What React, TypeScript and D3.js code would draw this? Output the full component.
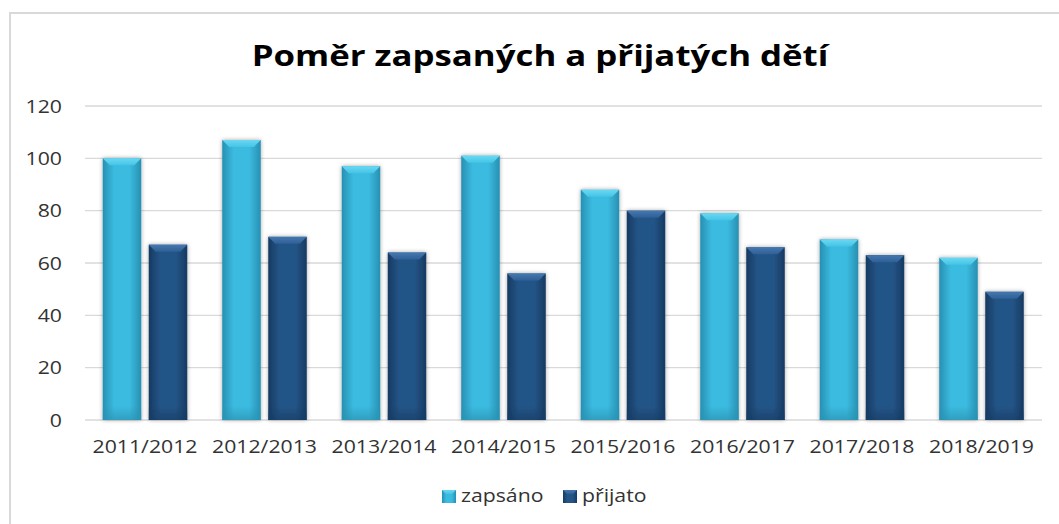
import React from "react";
import * as d3 from "d3";

const categories = ["2011/2012", "2012/2013", "2013/2014", "2014/2015", "2015/2016", "2016/2017", "2017/2018", "2018/2019"];
const zapsano = [100, 107, 97, 101, 88, 79, 69, 62];
const prijato = [67, 70, 64, 56, 80, 66, 63, 49];
const seriesNames = ["zapsáno", "přijato"];
const yTicks = [0, 20, 40, 60, 80, 100, 120];
const title = "Poměr zapsaných a přijatých dětí";

const W = 1059;
const H = 524;
const FONT = "'Open Sans', 'Noto Sans', sans-serif";
const SX = 1.18;

const palettes = [
  { id: "gz", edge: "#2790b2", mid: "#3bbbe0", top: "#6ad8f2", topEdge: "#45c4e6", bottom: "#2a93b3" },
  { id: "gp", edge: "#163a62", mid: "#245587", top: "#4578b0", topEdge: "#2f5f95", bottom: "#173d66" },
];

function STxt({ x, y, anchor, size, weight, fill, children }: any) {
  return (
    <g transform={`translate(${x},${y}) scale(${SX},1)`}>
      <text x={0} y={0} textAnchor={anchor} fontSize={size} fontWeight={weight || "normal"} fill={fill || "#333"} fontFamily={FONT}>
        {children}
      </text>
    </g>
  );
}

export default function App() {
  const x0 = d3.scaleBand<string>().domain(categories).range([85.25, 1041.25]).padding(0);
  const x1 = d3.scaleBand<string>().domain(seriesNames).range([0, x0.bandwidth()]).paddingInner(0.163).paddingOuter(0.38);
  const y = d3.scaleLinear().domain([0, 120]).range([420, 106]);
  const data = [zapsano, prijato];
  const bevel = 7;

  return (
    <svg width={W} height={H} style={{ position: "absolute", left: 0, top: 0, background: "#fff" }}>
      <defs>
        {palettes.map((p) => (
          <linearGradient key={p.id} id={p.id} x1="0" x2="1" y1="0" y2="0">
            <stop offset="0" stopColor={p.edge} />
            <stop offset="0.3" stopColor={p.mid} />
            <stop offset="0.7" stopColor={p.mid} />
            <stop offset="1" stopColor={p.edge} />
          </linearGradient>
        ))}
        {palettes.map((p) => (
          <linearGradient key={p.id + "t"} id={p.id + "t"} x1="0" x2="0" y1="0" y2="1">
            <stop offset="0" stopColor={p.top} />
            <stop offset="1" stopColor={p.topEdge} />
          </linearGradient>
        ))}
        {palettes.map((p) => (
          <linearGradient key={p.id + "b"} id={p.id + "b"} x1="0" x2="0" y1="0" y2="1">
            <stop offset="0" stopColor={p.bottom} stopOpacity={0} />
            <stop offset="1" stopColor={p.bottom} stopOpacity={0.7} />
          </linearGradient>
        ))}
        <filter id="sh" x="-20%" y="-10%" width="140%" height="120%">
          <feGaussianBlur in="SourceAlpha" stdDeviation="2" />
          <feOffset dx="0" dy="0" result="b" />
          <feComponentTransfer>
            <feFuncA type="linear" slope="0.35" />
          </feComponentTransfer>
          <feMerge>
            <feMergeNode />
            <feMergeNode in="SourceGraphic" />
          </feMerge>
        </filter>
      </defs>
      <rect x={10} y={13} width={1100} height={600} fill="#fff" stroke="#d9d9d9" strokeWidth={2} />
      <g transform={`translate(540,66) scale(1.2,1)`}>
        <text x={0} y={0} textAnchor="middle" fontSize={29} fontWeight="bold" fill="#000" fontFamily={FONT}>
          {title}
        </text>
      </g>
      {yTicks.map((t) => (
        <g key={t}>
          <line x1={85} x2={1042} y1={y(t)} y2={y(t)} stroke="#d9d9d9" strokeWidth={1.3} />
          <STxt x={62} y={y(t) + 6.5} anchor="end" size={18}>
            {t}
          </STxt>
        </g>
      ))}
      {categories.map((c, i) => (
        <g key={c}>
          {data.map((vals, si) => {
            const p = palettes[si];
            const bx = (x0(c) as number) + (x1(seriesNames[si]) as number);
            const bw = x1.bandwidth();
            const by = y(vals[i]);
            const bh = y(0) - by;
            return (
              <g key={si} filter="url(#sh)">
                <rect x={bx} y={by} width={bw} height={bh} fill={`url(#${p.id})`} />
                <path
                  d={`M${bx},${by}L${bx + bw},${by}L${bx + bw - bevel},${by + bevel}L${bx + bevel},${by + bevel}Z`}
                  fill={`url(#${p.id}t)`}
                />
                <rect x={bx} y={by + bh - 14} width={bw} height={14} fill={`url(#${p.id}b)`} />
              </g>
            );
          })}
          <STxt x={(x0(c) as number) + x0.bandwidth() / 2} y={453} anchor="middle" size={18}>
            {c}
          </STxt>
        </g>
      ))}
      {seriesNames.map((s, si) => {
        const lx = [442, 563][si];
        const p = palettes[si];
        return (
          <g key={s}>
            <rect x={lx} y={490} width={14} height={13} fill={`url(#${p.id})`} />
            <path d={`M${lx},${490}L${lx + 14},${490}L${lx + 10},${494}L${lx + 4},${494}Z`} fill={`url(#${p.id}t)`} />
            <STxt x={lx + 19} y={502} anchor="start" size={18}>
              {s}
            </STxt>
          </g>
        );
      })}
    </svg>
  );
}
